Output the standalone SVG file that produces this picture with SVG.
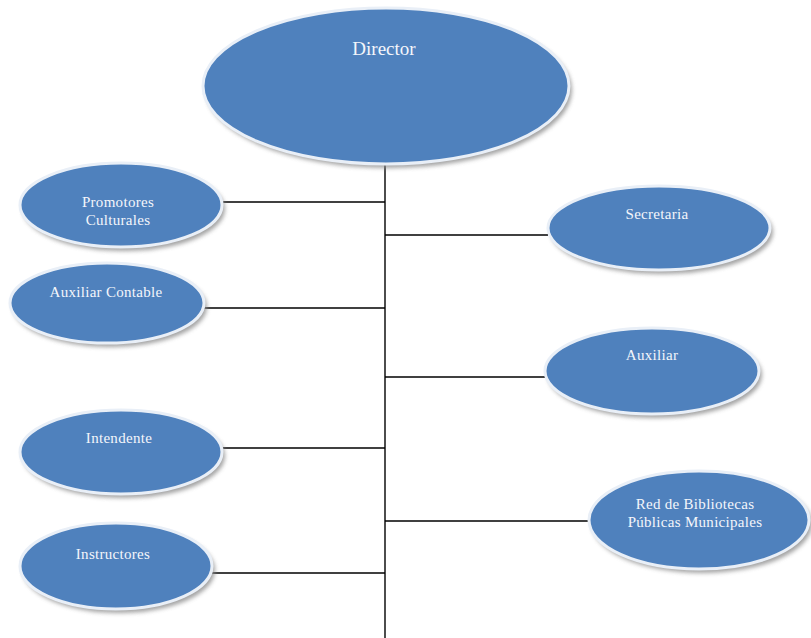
<svg xmlns="http://www.w3.org/2000/svg" width="811" height="638" viewBox="0 0 811 638">
<defs>
<filter id="sh" x="-20%" y="-20%" width="140%" height="140%"><feGaussianBlur stdDeviation="2"/></filter>
<style>
.shadow{fill:#8c8c8c;filter:url(#sh);opacity:0.8}
.node{fill:#4f81bd;stroke:#e9eff7;stroke-width:3}
.lbl{font-family:"Liberation Serif",serif;font-size:15px;fill:#f4f6fb;text-anchor:middle;letter-spacing:0.3px}
.big{font-size:19px;letter-spacing:0}
.conn line{stroke:#000;stroke-width:1.4}
</style>
</defs>
<rect width="811" height="638" fill="#fff"/>
<g class="conn">
<line x1="385" y1="163" x2="385" y2="638"/>
<line x1="222" y1="202" x2="385" y2="202"/>
<line x1="385" y1="235" x2="548" y2="235"/>
<line x1="204" y1="308" x2="385" y2="308"/>
<line x1="385" y1="377" x2="545" y2="377"/>
<line x1="222" y1="448" x2="385" y2="448"/>
<line x1="385" y1="521" x2="588" y2="521"/>
<line x1="212" y1="573" x2="385" y2="573"/>
</g>
<g id="director">
<ellipse class="shadow" cx="389" cy="90" rx="183" ry="78"/>
<ellipse class="node" cx="386" cy="86" rx="183" ry="78"/>
<text class="lbl big" x="384" y="55">Director</text>
</g>
<g id="promotores">
<ellipse class="shadow" cx="124" cy="209" rx="101" ry="42"/>
<ellipse class="node" cx="121" cy="205" rx="101" ry="42"/>
<text class="lbl" x="118" y="207">Promotores</text>
<text class="lbl" x="118" y="225">Culturales</text>
</g>
<g id="auxiliar-contable">
<ellipse class="shadow" cx="110" cy="307" rx="97" ry="40"/>
<ellipse class="node" cx="107" cy="303" rx="97" ry="40"/>
<text class="lbl" x="106" y="297">Auxiliar Contable</text>
</g>
<g id="secretaria">
<ellipse class="shadow" cx="662" cy="232" rx="111" ry="42"/>
<ellipse class="node" cx="659" cy="228" rx="111" ry="42"/>
<text class="lbl" x="657" y="219">Secretaria</text>
</g>
<g id="auxiliar">
<ellipse class="shadow" cx="655" cy="375" rx="107" ry="43"/>
<ellipse class="node" cx="652" cy="371" rx="107" ry="43"/>
<text class="lbl" x="652" y="360">Auxiliar</text>
</g>
<g id="intendente">
<ellipse class="shadow" cx="124" cy="456" rx="101" ry="42"/>
<ellipse class="node" cx="121" cy="452" rx="101" ry="42"/>
<text class="lbl" x="119" y="443">Intendente</text>
</g>
<g id="red">
<ellipse class="shadow" cx="702" cy="524" rx="110" ry="49"/>
<ellipse class="node" cx="699" cy="520" rx="110" ry="49"/>
<text class="lbl" x="695" y="509">Red de Bibliotecas</text>
<text class="lbl" x="695" y="527">Públicas Municipales</text>
</g>
<g id="instructores">
<ellipse class="shadow" cx="119" cy="570" rx="96" ry="43"/>
<ellipse class="node" cx="116" cy="566" rx="96" ry="43"/>
<text class="lbl" x="113" y="559">Instructores</text>
</g>
</svg>
